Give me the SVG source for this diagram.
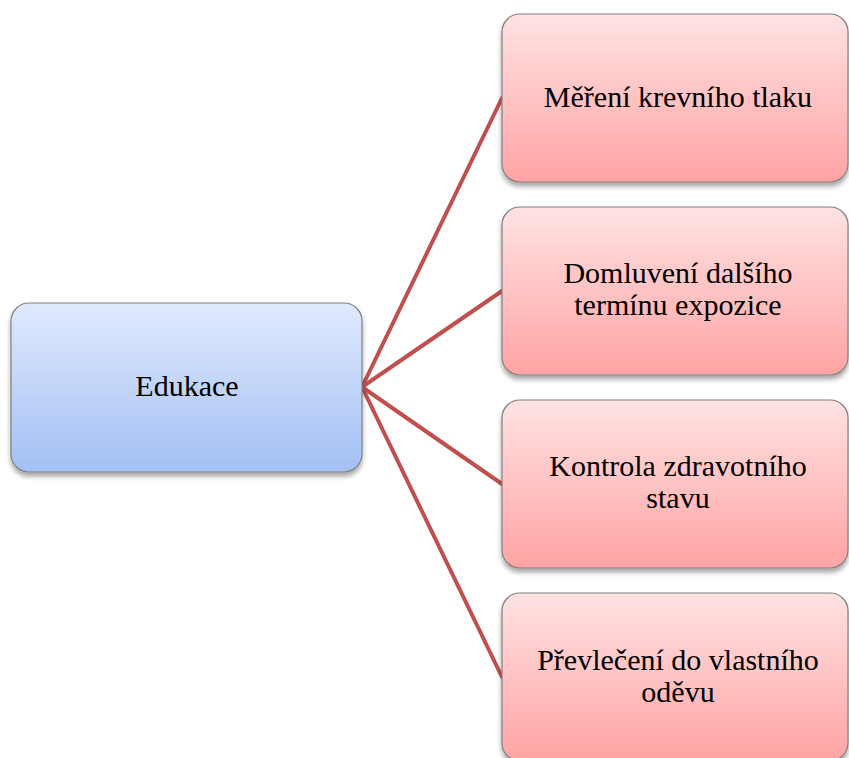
<svg xmlns="http://www.w3.org/2000/svg" width="849" height="758" viewBox="0 0 849 758">
  <defs>
    <linearGradient id="gBlue" x1="0" y1="0" x2="0" y2="1">
      <stop offset="0" stop-color="#E0E9FC"/>
      <stop offset="1" stop-color="#A3C0F5"/>
    </linearGradient>
    <linearGradient id="gRed" x1="0" y1="0" x2="0" y2="1">
      <stop offset="0" stop-color="#FFE2E3"/>
      <stop offset="1" stop-color="#FFA3A3"/>
    </linearGradient>
    <filter id="shadow" x="-10%" y="-10%" width="120%" height="130%">
      <feGaussianBlur in="SourceAlpha" stdDeviation="2.5"/>
      <feOffset dx="0" dy="4" result="b"/>
      <feComponentTransfer><feFuncA type="linear" slope="0.35"/></feComponentTransfer>
      <feMerge><feMergeNode/><feMergeNode in="SourceGraphic"/></feMerge>
    </filter>
  </defs>
  <style>
    .box { stroke: #808080; stroke-width: 1.2; filter: url(#shadow); }
    .root { fill: url(#gBlue); }
    .leaf { fill: url(#gRed); }
    text { font-family: 'Liberation Serif', 'Times New Roman', serif; font-size: 30px; fill: #000; text-anchor: middle; }
    .conn line { stroke: #C0504D; stroke-width: 4; stroke-linecap: round; }
  </style>

  <g id="connectors" class="conn">
    <line x1="362" y1="387" x2="502" y2="98"/>
    <line x1="362" y1="387" x2="502" y2="291"/>
    <line x1="362" y1="387" x2="502" y2="484"/>
    <line x1="362" y1="387" x2="502" y2="677"/>
  </g>

  <g id="edukace">
    <rect class="box root" x="11" y="303" width="351" height="169" rx="18"/>
    <text x="187" y="396">Edukace</text>
  </g>

  <g id="mereni">
    <rect class="box leaf" x="502" y="14" width="346" height="168" rx="18"/>
    <text x="678" y="107">Měření krevního tlaku</text>
  </g>

  <g id="domluveni">
    <rect class="box leaf" x="502" y="207" width="346" height="168" rx="18"/>
    <text x="678" y="283">Domluvení dalšího</text>
    <text x="678" y="315">termínu expozice</text>
  </g>

  <g id="kontrola">
    <rect class="box leaf" x="502" y="400" width="346" height="168" rx="18"/>
    <text x="678" y="476">Kontrola zdravotního</text>
    <text x="678" y="508">stavu</text>
  </g>

  <g id="prevleceni">
    <rect class="box leaf" x="502" y="593" width="346" height="168" rx="18"/>
    <text x="678" y="670">Převlečení do vlastního</text>
    <text x="678" y="702">oděvu</text>
  </g>
</svg>
